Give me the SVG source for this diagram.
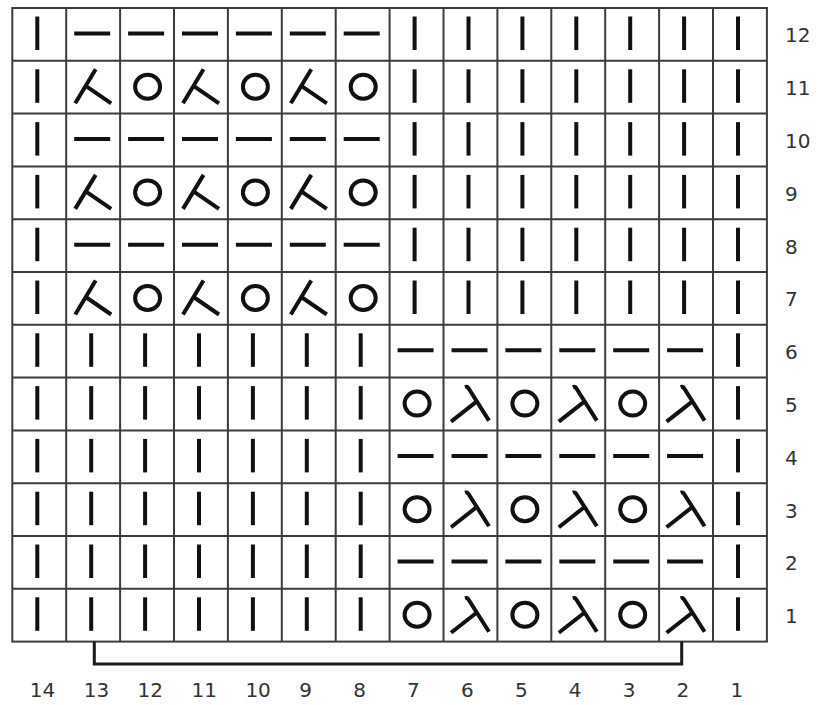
<svg xmlns="http://www.w3.org/2000/svg" xmlns:xlink="http://www.w3.org/1999/xlink" width="818" height="705" viewBox="0 0 818 705">
<style>
.grid{stroke:#3c3c3c;stroke-width:2;fill:none}
.sym{stroke:#111;stroke-width:4;fill:none;stroke-linecap:butt}
.lbl{font-family:"DejaVu Sans",Verdana,sans-serif;font-size:20px;fill:#333}
.br{stroke:#1a1a1a;stroke-width:3;fill:none}
</style>
<defs>
<g id="k"><line class="sym" x1="25" y1="8.5" x2="25" y2="42"/></g>
<g id="p"><line class="sym" x1="8" y1="25.5" x2="44" y2="25.5"/></g>
<g id="o"><ellipse class="sym" cx="27.5" cy="26" rx="12.5" ry="12"/></g>
<g id="l"><path class="sym" d="M29.5 8.5 L9 42.5 M19.5 25 L45 42.5"/></g>
<g id="r"><path class="sym" d="M21.5 9.5 Q24 8.5 25.5 11.5 L45.5 43 M33 24 L7.5 44"/></g>
</defs>
<rect width="818" height="705" fill="#fff"/>
<g id="grid">
<rect class="grid" x="12.3" y="8" width="754.6" height="633.6"/>
<path class="grid" d="M66.2 8V641.6M120.1 8V641.6M174 8V641.6M227.9 8V641.6M281.8 8V641.6M335.7 8V641.6M389.6 8V641.6M443.5 8V641.6M497.4 8V641.6M551.3 8V641.6M605.2 8V641.6M659.1 8V641.6M713 8V641.6"/>
<path class="grid" d="M12.3 60.8H766.9M12.3 113.6H766.9M12.3 166.4H766.9M12.3 219.2H766.9M12.3 272H766.9M12.3 324.8H766.9M12.3 377.6H766.9M12.3 430.4H766.9M12.3 483.2H766.9M12.3 536H766.9M12.3 588.8H766.9"/>
</g>
<g id="row12">
<use href="#k" x="12.3" y="8"/><use href="#p" x="66.2" y="8"/><use href="#p" x="120.1" y="8"/><use href="#p" x="174" y="8"/><use href="#p" x="227.9" y="8"/><use href="#p" x="281.8" y="8"/><use href="#p" x="335.7" y="8"/><use href="#k" x="389.6" y="8"/><use href="#k" x="443.5" y="8"/><use href="#k" x="497.4" y="8"/><use href="#k" x="551.3" y="8"/><use href="#k" x="605.2" y="8"/><use href="#k" x="659.1" y="8"/><use href="#k" x="713" y="8"/>
</g>
<g id="row11">
<use href="#k" x="12.3" y="60.8"/><use href="#l" x="66.2" y="60.8"/><use href="#o" x="120.1" y="60.8"/><use href="#l" x="174" y="60.8"/><use href="#o" x="227.9" y="60.8"/><use href="#l" x="281.8" y="60.8"/><use href="#o" x="335.7" y="60.8"/><use href="#k" x="389.6" y="60.8"/><use href="#k" x="443.5" y="60.8"/><use href="#k" x="497.4" y="60.8"/><use href="#k" x="551.3" y="60.8"/><use href="#k" x="605.2" y="60.8"/><use href="#k" x="659.1" y="60.8"/><use href="#k" x="713" y="60.8"/>
</g>
<g id="row10">
<use href="#k" x="12.3" y="113.6"/><use href="#p" x="66.2" y="113.6"/><use href="#p" x="120.1" y="113.6"/><use href="#p" x="174" y="113.6"/><use href="#p" x="227.9" y="113.6"/><use href="#p" x="281.8" y="113.6"/><use href="#p" x="335.7" y="113.6"/><use href="#k" x="389.6" y="113.6"/><use href="#k" x="443.5" y="113.6"/><use href="#k" x="497.4" y="113.6"/><use href="#k" x="551.3" y="113.6"/><use href="#k" x="605.2" y="113.6"/><use href="#k" x="659.1" y="113.6"/><use href="#k" x="713" y="113.6"/>
</g>
<g id="row9">
<use href="#k" x="12.3" y="166.4"/><use href="#l" x="66.2" y="166.4"/><use href="#o" x="120.1" y="166.4"/><use href="#l" x="174" y="166.4"/><use href="#o" x="227.9" y="166.4"/><use href="#l" x="281.8" y="166.4"/><use href="#o" x="335.7" y="166.4"/><use href="#k" x="389.6" y="166.4"/><use href="#k" x="443.5" y="166.4"/><use href="#k" x="497.4" y="166.4"/><use href="#k" x="551.3" y="166.4"/><use href="#k" x="605.2" y="166.4"/><use href="#k" x="659.1" y="166.4"/><use href="#k" x="713" y="166.4"/>
</g>
<g id="row8">
<use href="#k" x="12.3" y="219.2"/><use href="#p" x="66.2" y="219.2"/><use href="#p" x="120.1" y="219.2"/><use href="#p" x="174" y="219.2"/><use href="#p" x="227.9" y="219.2"/><use href="#p" x="281.8" y="219.2"/><use href="#p" x="335.7" y="219.2"/><use href="#k" x="389.6" y="219.2"/><use href="#k" x="443.5" y="219.2"/><use href="#k" x="497.4" y="219.2"/><use href="#k" x="551.3" y="219.2"/><use href="#k" x="605.2" y="219.2"/><use href="#k" x="659.1" y="219.2"/><use href="#k" x="713" y="219.2"/>
</g>
<g id="row7">
<use href="#k" x="12.3" y="272"/><use href="#l" x="66.2" y="272"/><use href="#o" x="120.1" y="272"/><use href="#l" x="174" y="272"/><use href="#o" x="227.9" y="272"/><use href="#l" x="281.8" y="272"/><use href="#o" x="335.7" y="272"/><use href="#k" x="389.6" y="272"/><use href="#k" x="443.5" y="272"/><use href="#k" x="497.4" y="272"/><use href="#k" x="551.3" y="272"/><use href="#k" x="605.2" y="272"/><use href="#k" x="659.1" y="272"/><use href="#k" x="713" y="272"/>
</g>
<g id="row6">
<use href="#k" x="12.3" y="324.8"/><use href="#k" x="66.2" y="324.8"/><use href="#k" x="120.1" y="324.8"/><use href="#k" x="174" y="324.8"/><use href="#k" x="227.9" y="324.8"/><use href="#k" x="281.8" y="324.8"/><use href="#k" x="335.7" y="324.8"/><use href="#p" x="389.6" y="324.8"/><use href="#p" x="443.5" y="324.8"/><use href="#p" x="497.4" y="324.8"/><use href="#p" x="551.3" y="324.8"/><use href="#p" x="605.2" y="324.8"/><use href="#p" x="659.1" y="324.8"/><use href="#k" x="713" y="324.8"/>
</g>
<g id="row5">
<use href="#k" x="12.3" y="377.6"/><use href="#k" x="66.2" y="377.6"/><use href="#k" x="120.1" y="377.6"/><use href="#k" x="174" y="377.6"/><use href="#k" x="227.9" y="377.6"/><use href="#k" x="281.8" y="377.6"/><use href="#k" x="335.7" y="377.6"/><use href="#o" x="389.6" y="377.6"/><use href="#r" x="443.5" y="377.6"/><use href="#o" x="497.4" y="377.6"/><use href="#r" x="551.3" y="377.6"/><use href="#o" x="605.2" y="377.6"/><use href="#r" x="659.1" y="377.6"/><use href="#k" x="713" y="377.6"/>
</g>
<g id="row4">
<use href="#k" x="12.3" y="430.4"/><use href="#k" x="66.2" y="430.4"/><use href="#k" x="120.1" y="430.4"/><use href="#k" x="174" y="430.4"/><use href="#k" x="227.9" y="430.4"/><use href="#k" x="281.8" y="430.4"/><use href="#k" x="335.7" y="430.4"/><use href="#p" x="389.6" y="430.4"/><use href="#p" x="443.5" y="430.4"/><use href="#p" x="497.4" y="430.4"/><use href="#p" x="551.3" y="430.4"/><use href="#p" x="605.2" y="430.4"/><use href="#p" x="659.1" y="430.4"/><use href="#k" x="713" y="430.4"/>
</g>
<g id="row3">
<use href="#k" x="12.3" y="483.2"/><use href="#k" x="66.2" y="483.2"/><use href="#k" x="120.1" y="483.2"/><use href="#k" x="174" y="483.2"/><use href="#k" x="227.9" y="483.2"/><use href="#k" x="281.8" y="483.2"/><use href="#k" x="335.7" y="483.2"/><use href="#o" x="389.6" y="483.2"/><use href="#r" x="443.5" y="483.2"/><use href="#o" x="497.4" y="483.2"/><use href="#r" x="551.3" y="483.2"/><use href="#o" x="605.2" y="483.2"/><use href="#r" x="659.1" y="483.2"/><use href="#k" x="713" y="483.2"/>
</g>
<g id="row2">
<use href="#k" x="12.3" y="536"/><use href="#k" x="66.2" y="536"/><use href="#k" x="120.1" y="536"/><use href="#k" x="174" y="536"/><use href="#k" x="227.9" y="536"/><use href="#k" x="281.8" y="536"/><use href="#k" x="335.7" y="536"/><use href="#p" x="389.6" y="536"/><use href="#p" x="443.5" y="536"/><use href="#p" x="497.4" y="536"/><use href="#p" x="551.3" y="536"/><use href="#p" x="605.2" y="536"/><use href="#p" x="659.1" y="536"/><use href="#k" x="713" y="536"/>
</g>
<g id="row1">
<use href="#k" x="12.3" y="588.8"/><use href="#k" x="66.2" y="588.8"/><use href="#k" x="120.1" y="588.8"/><use href="#k" x="174" y="588.8"/><use href="#k" x="227.9" y="588.8"/><use href="#k" x="281.8" y="588.8"/><use href="#k" x="335.7" y="588.8"/><use href="#o" x="389.6" y="588.8"/><use href="#r" x="443.5" y="588.8"/><use href="#o" x="497.4" y="588.8"/><use href="#r" x="551.3" y="588.8"/><use href="#o" x="605.2" y="588.8"/><use href="#r" x="659.1" y="588.8"/><use href="#k" x="713" y="588.8"/>
</g>
<g id="bracket">
<path class="br" d="M94.3 641.6V664H681.7V641.6"/>
</g>
<g id="row-labels" class="lbl">
<text x="785" y="42.4">12</text>
<text x="785" y="95.2">11</text>
<text x="785" y="148">10</text>
<text x="785" y="200.8">9</text>
<text x="785" y="253.6">8</text>
<text x="785" y="306.4">7</text>
<text x="785" y="359.2">6</text>
<text x="785" y="412">5</text>
<text x="785" y="464.8">4</text>
<text x="785" y="517.6">3</text>
<text x="785" y="570.4">2</text>
<text x="785" y="623.2">1</text>
</g>
<g id="col-labels" class="lbl">
<text x="29.8" y="697">14</text>
<text x="83.7" y="697">13</text>
<text x="137.6" y="697">12</text>
<text x="191.5" y="697">11</text>
<text x="245.4" y="697">10</text>
<text x="299.3" y="697">9</text>
<text x="353.2" y="697">8</text>
<text x="407.1" y="697">7</text>
<text x="461" y="697">6</text>
<text x="514.9" y="697">5</text>
<text x="568.8" y="697">4</text>
<text x="622.7" y="697">3</text>
<text x="676.6" y="697">2</text>
<text x="730.5" y="697">1</text>
</g>
</svg>
